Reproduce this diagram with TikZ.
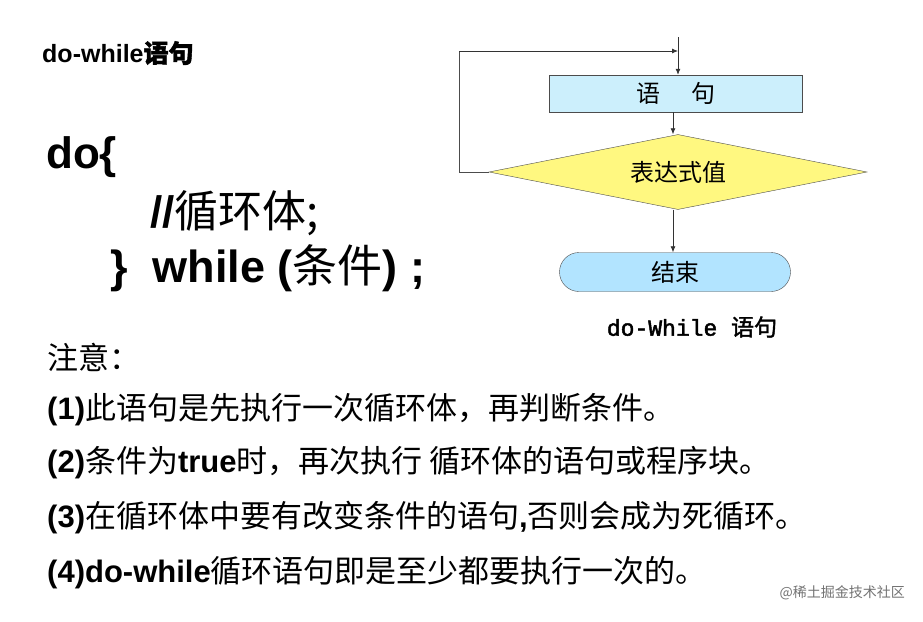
\documentclass[tikz,border=0pt]{standalone}
\usepackage{fontspec}
\setmainfont{Liberation Sans}
\newfontfamily\cjkfam{Noto Sans CJK SC}
\newcommand\cjk{\cjkfam\mdseries}
\newfontfamily\cjkb{Noto Sans CJK SC}[FakeBold=1.5]
\newfontfamily\monob{Liberation Mono}[FakeBold=2]
\usetikzlibrary{shapes.geometric,shapes.misc,arrows.meta}
\begin{document}
\begin{tikzpicture}[x=1pt,y=-1pt,
  arr/.style={-{Latex[length=6pt,width=5pt]},black!80,line width=0.8pt},
  txt/.style={anchor=west,inner sep=0pt,font=\fontsize{31}{31}\selectfont}]
\useasboundingbox (0,0) rectangle (923,621);
\fill[white] (0,0) rectangle (923,621);
% flowchart
\node[draw=black!70,fill=cyan!20,minimum width=253pt,minimum height=37pt,inner sep=0pt] (stmt) at (676,93.5) {\cjk\fontsize{24}{24}\selectfont 语\hspace{1.3em}句};
\node[diamond,draw=black!70,fill=yellow!50,aspect=5,minimum width=378pt,minimum height=75pt,inner sep=0pt] (cond) at (678,172) {\cjk\fontsize{24}{24}\selectfont 表达式值};
\node[rounded rectangle,draw=black!70,fill=blue!35!cyan!30,minimum width=231pt,minimum height=39pt,inner sep=0pt] (end) at (675,272) {\cjk\fontsize{24}{24}\selectfont 结束};
\coordinate (top) at (678,37);
\coordinate (j) at (678,51);
\coordinate (lc) at (459,172);
\coordinate (lt) at (459,51);
\draw[arr] (top) -- (stmt.north -| top);
\draw[black!70,line width=0.8pt] (cond.west) -- (lc) -- (lt);
\draw[arr] (lt) -- (j);
\draw[arr] (stmt.south -| 673,0) -- (cond.north -| 673,0);
\draw[arr] (cond.south -| 673,0) -- (end.north -| 673,0);
\node[inner sep=0pt] (cap) at (692,327) {\fontsize{23}{23}\selectfont\monob do-While \cjkb 语句};
% left text
\node[txt,font=\fontsize{25}{25}\selectfont] (t0) at (42,53) {\bfseries do-while\cjkb 语句};
\node[txt,font=\fontsize{44}{44}\selectfont] (t1) at (46,157) {\bfseries do\{};
\node[txt,font=\fontsize{44}{44}\selectfont] (t2) at (150,213) {\bfseries //\cjk 循环体;};
\node[txt,font=\fontsize{45}{45}\selectfont] (t3) at (110,268) {\bfseries \}\ \ while (\cjk 条件\bfseries\rmfamily) ;};
\node[txt] (n0) at (47,357) {\cjk 注意：};
\node[txt] (n1) at (47,410) {\bfseries (1)\cjk 此语句是先执行一次循环体，再判断条件。};
\node[txt] (n2) at (47,463) {\bfseries (2)\cjk 条件为\bfseries\rmfamily true\cjk 时，再次执行 循环体的语句或程序块。};
\node[txt] (n3) at (47,518) {\bfseries (3)\cjk 在循环体中要有改变条件的语句\rmfamily\bfseries ,\cjk 否则会成为死循环。};
\node[txt] (n4) at (47,573) {\bfseries (4)do-while\cjk 循环语句即是至少都要执行一次的。};
\node[anchor=east,inner sep=0pt,text=black!55] (wm) at (905,593) {\cjk\fontsize{14}{14}\selectfont @稀土掘金技术社区};
\end{tikzpicture}
\end{document}
